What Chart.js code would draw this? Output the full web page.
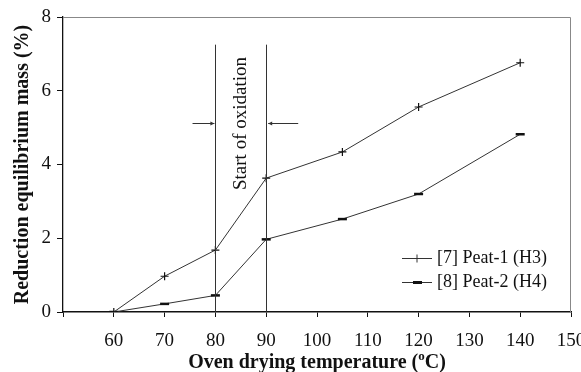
<!DOCTYPE html>
<html>
<head>
<meta charset="utf-8">
<script src="https://cdn.jsdelivr.net/npm/chart.js@4"></script>
<style>
  html, body { margin: 0; padding: 0; background: #fff; }
  #wrap { width: 581px; height: 372px; }
</style>
</head>
<body>
<div id="wrap"><canvas id="chart" width="581" height="372"></canvas></div>
<script>
// Data
const temperatures = [60, 70, 80, 90, 105, 120, 140];
const peat1 = [0, 0.97, 1.68, 3.63, 4.34, 5.56, 6.76];
const peat2 = [0, 0.22, 0.45, 1.97, 2.52, 3.2, 4.82];
const seriesLabels = ['[7] Peat-1 (H3)', '[8] Peat-2 (H4)'];
const xTicks = [60, 70, 80, 90, 100, 110, 120, 130, 140, 150];
const yTicks = [0, 2, 4, 6, 8];

// Annotation: start of oxidation between 80 and 90 °C
const oxidationLines = [80, 90];
const oxidationTop = 7.25;
const arrowLevel = 5.12;
const arrowFrom = [75.5, 96.3];
const noteText = 'Start of oxidation';

const serif = "'Liberation Serif', 'Times New Roman', serif";

const toPoints = (ys) => temperatures.map((t, i) => ({ x: t, y: ys[i] }));

// Frame, annotation, legend and x title
const decorations = {
    id: 'decorations',
    afterDraw(chart) {
        const ctx = chart.ctx;
        const xs = chart.scales.x;
        const ys = chart.scales.y;
        const area = chart.chartArea;
        ctx.save();

        // top and right border
        ctx.strokeStyle = '#888';
        ctx.lineWidth = 1;
        ctx.beginPath();
        ctx.moveTo(area.left, area.top + 0.5);
        ctx.lineTo(area.right - 0.5, area.top + 0.5);
        ctx.lineTo(area.right - 0.5, area.bottom);
        ctx.stroke();

        // vertical lines
        ctx.strokeStyle = '#333';
        oxidationLines.forEach(v => {
            const px = Math.round(xs.getPixelForValue(v)) + 0.5;
            ctx.beginPath();
            ctx.moveTo(px, ys.getPixelForValue(oxidationTop));
            ctx.lineTo(px, ys.getPixelForValue(0));
            ctx.stroke();
        });

        // arrows pointing at the lines
        const ay = Math.round(ys.getPixelForValue(arrowLevel)) + 0.5;
        oxidationLines.forEach((v, i) => {
            const tip = xs.getPixelForValue(v) + (i === 0 ? -1 : 2);
            const start = xs.getPixelForValue(arrowFrom[i]);
            const dir = i === 0 ? 1 : -1;
            ctx.beginPath();
            ctx.moveTo(start, ay);
            ctx.lineTo(tip, ay);
            ctx.stroke();
            ctx.fillStyle = '#333';
            ctx.beginPath();
            ctx.moveTo(tip, ay);
            ctx.lineTo(tip - dir * 4, ay - 2);
            ctx.lineTo(tip - dir * 4, ay + 2);
            ctx.closePath();
            ctx.fill();
        });

        // rotated note
        const cx = xs.getPixelForValue((oxidationLines[0] + oxidationLines[1]) / 2);
        ctx.translate(cx, ay);
        ctx.rotate(-Math.PI / 2);
        ctx.fillStyle = '#111';
        ctx.font = '19px ' + serif;
        ctx.textAlign = 'center';
        ctx.textBaseline = 'middle';
        ctx.fillText(noteText, 0, 0);
        ctx.setTransform(1, 0, 0, 1, 0, 0);

        // legend inside plot area
        ctx.font = '18px ' + serif;
        ctx.textAlign = 'left';
        ctx.textBaseline = 'middle';
        const lx = 402;
        const rows = [258, 282];
        chart.data.datasets.forEach((ds, i) => {
            const y = rows[i] + 0.5;
            ctx.strokeStyle = '#333';
            ctx.lineWidth = 1;
            ctx.beginPath();
            ctx.moveTo(lx, y);
            ctx.lineTo(lx + 30, y);
            ctx.stroke();
            const mx = lx + 15;
            if (i === 0) {
                ctx.beginPath();
                ctx.moveTo(mx - 4, y); ctx.lineTo(mx + 4, y);
                ctx.moveTo(mx, y - 4); ctx.lineTo(mx, y + 4);
                ctx.stroke();
            } else {
                ctx.fillStyle = '#111';
                ctx.fillRect(mx - 4, y - 1.5, 9, 3);
            }
            ctx.fillStyle = '#111';
            ctx.fillText(ds.label, lx + 35, rows[i]);
        });

        // x axis title with superscript o
        ctx.textBaseline = 'alphabetic';
        const p1 = 'Oven drying temperature (';
        const p2 = 'C)';
        ctx.font = 'bold 20px ' + serif;
        const w1 = ctx.measureText(p1).width;
        const w3 = ctx.measureText(p2).width;
        ctx.font = 'bold 13px ' + serif;
        const w2 = ctx.measureText('o').width;
        const total = w1 + w2 + w3;
        const tx = (area.left + area.right) / 2 - total / 2;
        const by = 368;
        ctx.font = 'bold 20px ' + serif;
        ctx.fillText(p1, tx, by);
        ctx.font = 'bold 13px ' + serif;
        ctx.fillText('o', tx + w1, by - 8);
        ctx.font = 'bold 20px ' + serif;
        ctx.fillText(p2, tx + w1 + w2, by);

        ctx.restore();
    }
};

new Chart(document.getElementById('chart').getContext('2d'), {
    type: 'scatter',
    data: {
        datasets: [
            {
                label: seriesLabels[0],
                data: toPoints(peat1),
                showLine: true,
                borderColor: '#333',
                borderWidth: 1,
                pointStyle: 'cross',
                pointRadius: 4,
                pointBorderColor: '#111',
                pointBorderWidth: 1.2,
                pointBackgroundColor: '#111'
            },
            {
                label: seriesLabels[1],
                data: toPoints(peat2),
                showLine: true,
                borderColor: '#333',
                borderWidth: 1,
                pointStyle: 'line',
                pointRadius: 4.5,
                pointBorderColor: '#111',
                pointBorderWidth: 2.5,
                pointBackgroundColor: '#111'
            }
        ]
    },
    options: {
        responsive: false,
        animation: false,
        events: [],
        layout: { padding: { left: 0, top: 17, right: 10, bottom: 0 } },
        plugins: {
            legend: { display: false },
            tooltip: { enabled: false }
        },
        scales: {
            x: {
                type: 'linear',
                min: 50,
                max: 150,
                afterBuildTicks: (scale) => {
                    scale.ticks = [{ value: 50 }].concat(xTicks.map(v => ({ value: v })));
                },
                afterFit: (scale) => {
                    scale.height = 60;
                    scale.paddingLeft = 0;
                    scale.paddingRight = 0;
                },
                ticks: {
                    color: '#111',
                    font: { family: serif, size: 19 },
                    padding: 13,
                    maxRotation: 0,
                    autoSkip: false,
                    callback: (v) => xTicks.includes(v) ? String(v) : ''
                },
                grid: {
                    display: true,
                    drawOnChartArea: false,
                    drawTicks: true,
                    tickLength: 5,
                    color: '#111'
                },
                border: { color: '#111', width: 1.5 }
            },
            y: {
                min: 0,
                max: 8,
                afterBuildTicks: (scale) => {
                    scale.ticks = yTicks.map(v => ({ value: v }));
                },
                afterFit: (scale) => {
                    scale.width = 63;
                    scale.paddingTop = 0;
                    scale.paddingBottom = 0;
                },
                ticks: {
                    color: '#111',
                    font: { family: serif, size: 19 },
                    padding: 6
                },
                grid: {
                    display: true,
                    drawOnChartArea: false,
                    drawTicks: true,
                    tickLength: 6,
                    color: '#111'
                },
                border: { color: '#111', width: 1.3 },
                title: {
                    display: true,
                    text: 'Reduction equilibrium mass (%)',
                    color: '#111',
                    font: { family: serif, size: 20, weight: 'bold' },
                    padding: { top: 11, bottom: 2 }
                }
            }
        }
    },
    plugins: [decorations]
});
</script>
</body>
</html>
